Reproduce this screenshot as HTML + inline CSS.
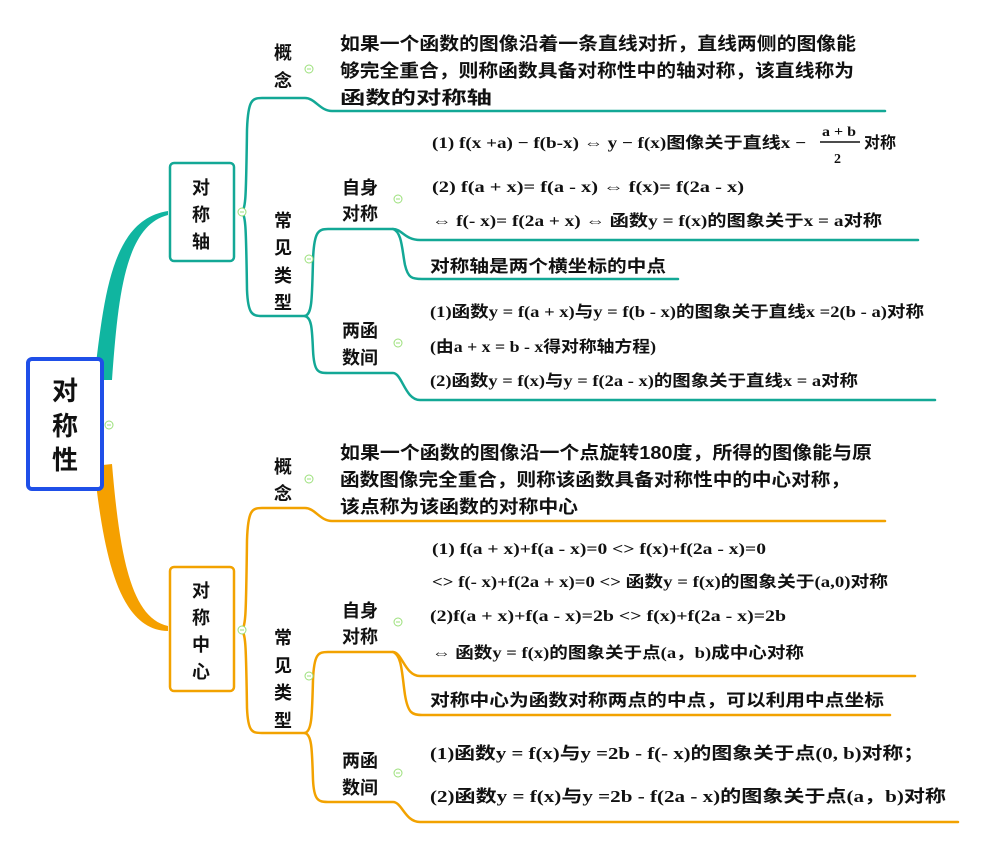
<!DOCTYPE html>
<html><head><meta charset="utf-8"><style>
html,body{margin:0;padding:0;background:#fff;}
svg{display:block;}
.c{font-family:"Liberation Sans","Noto Sans CJK SC",sans-serif;font-weight:bold;fill:#111;}
.f{font-family:"Liberation Serif","Noto Sans CJK SC",serif;font-weight:bold;fill:#111;font-size:16px;}
</style></head><body>
<svg width="982" height="848" viewBox="0 0 982 848" xmlns="http://www.w3.org/2000/svg">
<path d="M94,380 C104,300 110,220 168,211 L168,215 C124,226 118,300 112,380 Z" fill="#10b5a0"/>
<path d="M94,466 C104,560 120,630 168,631 L168,626 C132,618 120,560 112,464 Z" fill="#f5a000"/>
<g fill="none" stroke-width="2.5" stroke-linecap="round">
<g stroke="#13a896">
<path d="M240,212 C246,212 246,200 247,130 C248,100 252,98 262,98 L305,98 C315,98 320,111 332,111 L885,111"/>
<path d="M240,212 C246,212 246,225 247,290 C248,314 252,316 262,316 L305,316"/>
<path d="M305,316 C312,314 312,300 313,260 C314,232 318,229 328,229 L393,229 C402,229 405,240 420,240 L918,240"/>
<path d="M393,229 C402,232 402,250 405,265 C408,278 412,279 422,279 L678,279"/>
<path d="M305,316 C312,318 312,330 313,350 C314,372 318,373 328,373 L393,373 C402,373 405,400 420,400 L935,400"/>
</g>
<g stroke="#f2a200">
<path d="M240,630 C246,630 246,618 247,540 C248,510 252,508 262,508 L305,508 C315,508 320,521 332,521 L885,521"/>
<path d="M240,630 C246,630 246,645 247,708 C248,732 252,733 262,733 L305,733"/>
<path d="M305,733 C312,731 312,715 313,680 C314,654 318,652 328,652 L393,652 C402,652 405,676 420,676 L915,676"/>
<path d="M393,652 C402,655 402,675 405,695 C408,713 412,715 422,715 L890,715"/>
<path d="M305,733 C312,735 312,750 313,780 C314,800 318,802 328,802 L393,802 C402,802 405,822 420,822 L958,822"/>
</g>
</g>
<rect x="28" y="359" width="74" height="130" rx="4" fill="#fff" stroke="#1f4fe8" stroke-width="4"/>
<rect x="170" y="163" width="64" height="98" rx="4" fill="#fff" stroke="#13a896" stroke-width="2.5"/>
<rect x="170" y="567" width="64" height="124" rx="4" fill="#fff" stroke="#f2a200" stroke-width="2.5"/>
<g fill="#fff" stroke="#9be07a" stroke-width="1">
<circle cx="109" cy="425" r="4"/><circle cx="242" cy="212" r="4"/><circle cx="242" cy="630" r="4"/>
<circle cx="309" cy="69" r="4"/><circle cx="309" cy="259" r="4"/><circle cx="398" cy="199" r="4"/><circle cx="398" cy="343" r="4"/>
<circle cx="309" cy="479" r="4"/><circle cx="309" cy="676" r="4"/><circle cx="398" cy="622" r="4"/><circle cx="398" cy="773" r="4"/>
</g>
<g stroke="#9be07a" stroke-width="1">
<path d="M107,425h4M240,212h4M240,630h4M307,69h4M307,259h4M396,199h4M396,343h4M307,479h4M307,676h4M396,622h4M396,773h4"/>
</g>
<g class="c" font-size="26" text-anchor="middle">
<text x="65" y="400">对</text><text x="65" y="435">称</text><text x="65" y="469">性</text>
</g>
<g class="c" font-size="18" text-anchor="middle">
<text x="201" y="194">对</text><text x="201" y="221">称</text><text x="201" y="248">轴</text>
<text x="201" y="597">对</text><text x="201" y="624">称</text><text x="201" y="651">中</text><text x="201" y="678">心</text>
<text x="283" y="59">概</text><text x="283" y="87">念</text>
<text x="283" y="227">常</text><text x="283" y="254">见</text><text x="283" y="282">类</text><text x="283" y="309">型</text>
<text x="283" y="473">概</text><text x="283" y="500">念</text>
<text x="283" y="644">常</text><text x="283" y="672">见</text><text x="283" y="699">类</text><text x="283" y="727">型</text>
</g>
<g class="c" font-size="18">
<text x="342" y="194">自身</text><text x="342" y="220">对称</text>
<text x="342" y="337">两函</text><text x="342" y="364">数间</text>
<text x="342" y="617">自身</text><text x="342" y="643">对称</text>
<text x="342" y="767">两函</text><text x="342" y="794">数间</text>
<text x="340" y="50" textLength="516" lengthAdjust="spacingAndGlyphs">如果一个函数的图像沿着一条直线对折，直线两侧的图像能</text>
<text x="340" y="77" textLength="514" lengthAdjust="spacingAndGlyphs">够完全重合，则称函数具备对称性中的轴对称，该直线称为</text>
<text x="340" y="104" textLength="152" lengthAdjust="spacingAndGlyphs">函数的对称轴</text>
<text x="340" y="459" textLength="532" lengthAdjust="spacingAndGlyphs">如果一个函数的图像沿一个点旋转180度，所得的图像能与原</text>
<text x="340" y="486" textLength="510" lengthAdjust="spacingAndGlyphs">函数图像完全重合，则称该函数具备对称性中的中心对称，</text>
<text x="340" y="513" textLength="238" lengthAdjust="spacingAndGlyphs">该点称为该函数的对称中心</text>
</g>
<g class="c" font-size="17">
<text x="430" y="272" textLength="236" lengthAdjust="spacingAndGlyphs">对称轴是两个横坐标的中点</text>
<text x="430" y="706" textLength="454" lengthAdjust="spacingAndGlyphs">对称中心为函数对称两点的中点，可以利用中点坐标</text>
</g>
<g class="f">
<text x="432" y="148" textLength="374" lengthAdjust="spacingAndGlyphs">(1) f(x +a) − f(b-x) ⇔ y − f(x)图像关于直线x −</text>
<text x="822" y="136" font-size="14" textLength="34" lengthAdjust="spacingAndGlyphs">a + b</text>
<line x1="820" y1="142" x2="860" y2="142" stroke="#111" stroke-width="1.5"/>
<text x="834" y="163" font-size="14">2</text>
<text x="864" y="148" font-family="Liberation Sans,Noto Sans CJK SC,sans-serif">对称</text>
<text x="432" y="192" textLength="312" lengthAdjust="spacingAndGlyphs">(2) f(a + x)= f(a - x) ⇔ f(x)= f(2a - x)</text>
<text x="432" y="226" textLength="450" lengthAdjust="spacingAndGlyphs">⇔ f(- x)= f(2a + x) ⇔ 函数y = f(x)的图象关于x = a对称</text>
<text x="430" y="317" textLength="494" lengthAdjust="spacingAndGlyphs">(1)函数y = f(a + x)与y = f(b - x)的图象关于直线x =2(b - a)对称</text>
<text x="430" y="352" textLength="226" lengthAdjust="spacingAndGlyphs">(由a + x = b - x得对称轴方程)</text>
<text x="430" y="386" textLength="428" lengthAdjust="spacingAndGlyphs">(2)函数y = f(x)与y = f(2a - x)的图象关于直线x = a对称</text>
<text x="432" y="554" textLength="334" lengthAdjust="spacingAndGlyphs">(1) f(a + x)+f(a - x)=0 &lt;&gt; f(x)+f(2a - x)=0</text>
<text x="432" y="587" textLength="456" lengthAdjust="spacingAndGlyphs">&lt;&gt; f(- x)+f(2a + x)=0 &lt;&gt; 函数y = f(x)的图象关于(a,0)对称</text>
<text x="430" y="621" textLength="356" lengthAdjust="spacingAndGlyphs">(2)f(a + x)+f(a - x)=2b &lt;&gt; f(x)+f(2a - x)=2b</text>
<text x="432" y="658" textLength="372" lengthAdjust="spacingAndGlyphs">⇔ 函数y = f(x)的图象关于点(a，b)成中心对称</text>
<text x="430" y="759" font-size="17" textLength="494" lengthAdjust="spacingAndGlyphs">(1)函数y = f(x)与y =2b - f(- x)的图象关于点(0, b)对称；</text>
<text x="430" y="802" font-size="17" textLength="516" lengthAdjust="spacingAndGlyphs">(2)函数y = f(x)与y =2b - f(2a - x)的图象关于点(a，b)对称</text>
</g>
</svg>
</body></html>
